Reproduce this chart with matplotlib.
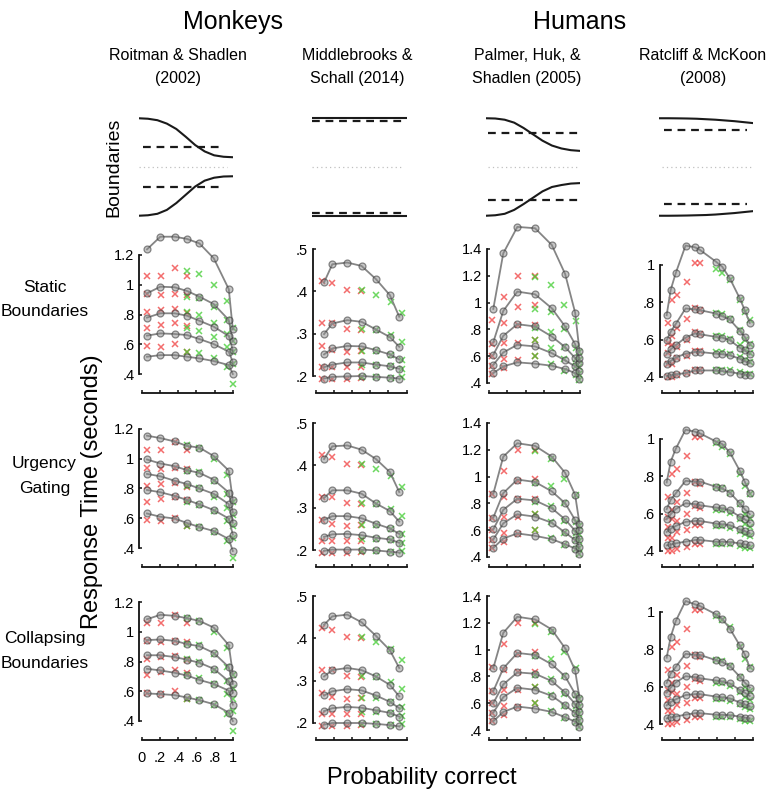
import matplotlib
matplotlib.use('Agg')
import matplotlib.pyplot as plt

plt.rcParams['font.family'] = ['Liberation Sans', 'DejaVu Sans']

# ---------------- data ----------------
studies = ["Roitman & Shadlen\n(2002)", "Middlebrooks &\nSchall (2014)",
           "Palmer, Huk, &\nShadlen (2005)", "Ratcliff & McKoon\n(2008)"]
groups = ["Monkeys", "Humans"]
row_labels = ["Static\nBoundaries", "Urgency\nGating", "Collapsing\nBoundaries"]

x_ticks = [0, 0.2, 0.4, 0.6, 0.8, 1.0]
x_ticklabels = ["0", ".2", ".4", ".6", ".8", "1"]

# boundary shapes (time axis 0..1, read at 11 points)
bnd_t = [0.0, 0.1, 0.2, 0.3, 0.4, 0.5, 0.6, 0.7, 0.8, 0.9, 1.0]
bnd_upper = [
    [1.0, 0.99, 0.96, 0.89, 0.78, 0.62, 0.45, 0.32, 0.24, 0.21, 0.20],
    [1.0, 1.0, 1.0, 1.0, 1.0, 1.0, 1.0, 1.0, 1.0, 1.0, 1.0],
    [1.0, 0.995, 0.97, 0.91, 0.80, 0.67, 0.54, 0.44, 0.38, 0.345, 0.33],
    [1.0, 1.0, 0.998, 0.995, 0.99, 0.98, 0.97, 0.955, 0.94, 0.92, 0.90],
]
bnd_lower = [
    [-1.0, -0.99, -0.96, -0.88, -0.74, -0.57, -0.40, -0.28, -0.22, -0.195, -0.19],
    [-1.0, -1.0, -1.0, -1.0, -1.0, -1.0, -1.0, -1.0, -1.0, -1.0, -1.0],
    [-1.0, -0.99, -0.96, -0.88, -0.76, -0.63, -0.50, -0.41, -0.37, -0.34, -0.33],
    [-1.0, -1.0, -0.998, -0.995, -0.99, -0.985, -0.975, -0.96, -0.945, -0.925, -0.905],
]
static_upper = [0.41, 0.95, 0.69, 0.75]
static_lower = [-0.41, -0.95, -0.68, -0.755]

# y ticks per study
y_ticks = [[0.4, 0.6, 0.8, 1.0, 1.2], [0.2, 0.3, 0.4, 0.5],
           [0.4, 0.6, 0.8, 1.0, 1.2, 1.4], [0.4, 0.6, 0.8, 1.0]]
y_ticklabels = [[".4", ".6", ".8", "1", "1.2"], [".2", ".3", ".4", ".5"],
                [".4", ".6", ".8", "1", "1.2", "1.4"], [".4", ".6", ".8", "1"]]

# ---- Roitman & Shadlen (2002) ----
rs_model_x = [0.055, 0.202, 0.36, 0.496, 0.632, 0.79, 0.956, 1.0]
rs_static = [
    [0.516, 0.527, 0.527, 0.516, 0.505, 0.487, 0.46, 0.40],
    [0.658, 0.673, 0.669, 0.662, 0.635, 0.601, 0.55, 0.48],
    [0.779, 0.808, 0.808, 0.792, 0.758, 0.718, 0.655, 0.56],
    [0.942, 0.987, 0.983, 0.958, 0.92, 0.87, 0.763, 0.62],
    [1.238, 1.323, 1.323, 1.308, 1.278, 1.178, 0.97, 0.70],
]
rs_urgency = [
    [0.632, 0.61, 0.598, 0.568, 0.541, 0.514, 0.46, 0.38],
    [0.79, 0.775, 0.75, 0.723, 0.693, 0.655, 0.598, 0.49],
    [0.898, 0.882, 0.852, 0.83, 0.80, 0.764, 0.695, 0.57],
    [0.995, 0.968, 0.95, 0.923, 0.905, 0.859, 0.773, 0.64],
    [1.155, 1.139, 1.116, 1.086, 1.075, 1.018, 0.92, 0.72],
]
rs_collapse = [
    [0.585, 0.581, 0.574, 0.558, 0.54, 0.513, 0.456, 0.40],
    [0.751, 0.74, 0.724, 0.706, 0.676, 0.649, 0.604, 0.51],
    [0.842, 0.842, 0.83, 0.812, 0.792, 0.751, 0.667, 0.59],
    [0.944, 0.948, 0.939, 0.917, 0.903, 0.858, 0.762, 0.65],
    [1.084, 1.114, 1.107, 1.091, 1.073, 1.028, 0.91, 0.717],
]
rs_err_x = [0.055, 0.213, 0.36, 0.496]
rs_err = [
    [0.59, 0.58, 0.60, 0.55],
    [0.71, 0.73, 0.74, 0.72],
    [0.82, 0.83, 0.84, 0.81],
    [0.94, 0.93, 0.94, 0.93],
    [1.06, 1.06, 1.11, 1.06],
]
rs_cor_x = [0.496, 0.632, 0.79, 0.937, 1.0]
rs_cor = [
    [0.55, 0.54, 0.51, 0.45, 0.33],
    [0.71, 0.69, 0.65, 0.58, 0.47],
    [0.82, 0.80, 0.74, 0.67, 0.55],
    [0.92, 0.91, 0.85, 0.76, 0.62],
    [1.09, 1.07, 1.00, 0.89, 0.71],
]

# ---- Middlebrooks & Schall (2014) ----
ms_model_x = [0.092, 0.183, 0.348, 0.505, 0.663, 0.817, 0.92]
ms_static = [
    [0.194, 0.198, 0.199, 0.2, 0.198, 0.196, 0.194],
    [0.221, 0.227, 0.232, 0.232, 0.227, 0.223, 0.217],
    [0.251, 0.265, 0.271, 0.27, 0.261, 0.251, 0.239],
    [0.299, 0.324, 0.332, 0.328, 0.31, 0.292, 0.269],
    [0.421, 0.464, 0.468, 0.46, 0.429, 0.391, 0.34],
]
ms_urgency = [
    [0.198, 0.201, 0.201, 0.201, 0.199, 0.196, 0.194],
    [0.231, 0.237, 0.238, 0.235, 0.229, 0.225, 0.217],
    [0.271, 0.28, 0.28, 0.275, 0.262, 0.251, 0.238],
    [0.323, 0.341, 0.341, 0.333, 0.31, 0.292, 0.267],
    [0.415, 0.445, 0.447, 0.437, 0.415, 0.384, 0.337],
]
ms_collapse = [
    [0.196, 0.2, 0.2, 0.2, 0.198, 0.195, 0.192],
    [0.228, 0.235, 0.238, 0.236, 0.23, 0.224, 0.215],
    [0.265, 0.275, 0.28, 0.277, 0.265, 0.25, 0.235],
    [0.31, 0.325, 0.33, 0.325, 0.31, 0.29, 0.263],
    [0.432, 0.452, 0.456, 0.438, 0.406, 0.372, 0.33],
]
ms_err_x = [0.066, 0.176, 0.34, 0.495]
ms_err = [
    [0.193, 0.193, 0.193, 0.195],
    [0.222, 0.222, 0.221, 0.222],
    [0.272, 0.262, 0.257, 0.26],
    [0.325, 0.325, 0.312, 0.308],
    [0.425, 0.42, 0.403, 0.40],
]
ms_cor_x = [0.505, 0.663, 0.824, 0.945]
ms_cor = [
    [0.198, 0.198, 0.196, 0.197],
    [0.225, 0.227, 0.223, 0.217],
    [0.258, 0.259, 0.25, 0.238],
    [0.31, 0.308, 0.297, 0.281],
    [0.403, 0.392, 0.375, 0.348],
]

# ---- Palmer, Huk, & Shadlen (2005) ----
ph_model_x = [0.044, 0.154, 0.309, 0.504, 0.688, 0.835, 0.945, 0.993]
ph_static = [
    [0.474, 0.524, 0.554, 0.544, 0.529, 0.504, 0.474, 0.43],
    [0.536, 0.628, 0.685, 0.673, 0.623, 0.569, 0.524, 0.487],
    [0.611, 0.752, 0.839, 0.822, 0.747, 0.668, 0.586, 0.549],
    [0.705, 0.938, 1.082, 1.062, 0.958, 0.822, 0.69, 0.586],
    [0.953, 1.368, 1.565, 1.555, 1.43, 1.214, 0.926, 0.64],
]
ph_urgency = [
    [0.468, 0.538, 0.576, 0.558, 0.533, 0.495, 0.463, 0.42],
    [0.531, 0.651, 0.719, 0.701, 0.656, 0.583, 0.526, 0.475],
    [0.606, 0.752, 0.835, 0.822, 0.764, 0.681, 0.596, 0.538],
    [0.694, 0.877, 0.978, 0.96, 0.89, 0.802, 0.676, 0.6],
    [0.872, 1.149, 1.249, 1.229, 1.149, 1.028, 0.865, 0.65],
]
ph_collapse = [
    [0.465, 0.535, 0.575, 0.56, 0.535, 0.495, 0.462, 0.42],
    [0.53, 0.645, 0.715, 0.70, 0.655, 0.585, 0.525, 0.475],
    [0.60, 0.74, 0.83, 0.82, 0.765, 0.68, 0.595, 0.535],
    [0.69, 0.86, 0.975, 0.96, 0.89, 0.80, 0.67, 0.59],
    [0.862, 1.125, 1.245, 1.225, 1.15, 1.01, 0.845, 0.64],
]
ph_err_x = [0.033, 0.165, 0.32, 0.504]
ph_err = [
    [0.47, 0.51, 0.57, 0.60],
    [0.53, 0.58, 0.70, 0.72],
    [0.60, 0.70, 0.83, 0.83],
    [0.69, 0.85, 0.97, 0.98],
    [0.87, 1.04, 1.20, 1.20],
]
ph_cor_x = [0.504, 0.68, 0.824, 0.952, 0.993]
ph_cor = [
    [0.60, 0.54, 0.49, 0.46, 0.42],
    [0.72, 0.66, 0.58, 0.53, 0.47],
    [0.81, 0.78, 0.67, 0.58, 0.52],
    [0.95, 0.93, 0.80, 0.66, 0.57],
    [1.19, 1.13, 0.98, 0.86, 0.63],
]

# ---- Ratcliff & McKoon (2008) ----
rm_model_x = [0.048, 0.092, 0.147, 0.256, 0.359, 0.414, 0.59, 0.659, 0.744, 0.853, 0.908, 0.963]
rm_static = [
    [0.405, 0.409, 0.414, 0.421, 0.435, 0.435, 0.435, 0.432, 0.427, 0.418, 0.412, 0.409],
    [0.471, 0.486, 0.504, 0.525, 0.534, 0.534, 0.525, 0.522, 0.516, 0.498, 0.484, 0.475],
    [0.525, 0.548, 0.57, 0.611, 0.633, 0.629, 0.615, 0.611, 0.597, 0.557, 0.543, 0.521],
    [0.597, 0.642, 0.683, 0.767, 0.762, 0.758, 0.74, 0.726, 0.708, 0.647, 0.615, 0.57],
    [0.731, 0.866, 0.955, 1.104, 1.095, 1.081, 1.018, 0.991, 0.928, 0.821, 0.758, 0.69],
]
rm_urgency = [
    [0.43, 0.435, 0.441, 0.45, 0.459, 0.459, 0.45, 0.45, 0.448, 0.441, 0.435, 0.43],
    [0.502, 0.52, 0.534, 0.556, 0.561, 0.561, 0.547, 0.543, 0.538, 0.516, 0.507, 0.495],
    [0.57, 0.597, 0.624, 0.656, 0.651, 0.645, 0.633, 0.629, 0.618, 0.584, 0.57, 0.552],
    [0.624, 0.674, 0.708, 0.776, 0.771, 0.772, 0.744, 0.735, 0.713, 0.656, 0.624, 0.597],
    [0.767, 0.878, 0.946, 1.05, 1.039, 1.03, 0.987, 0.973, 0.928, 0.83, 0.771, 0.71],
]
rm_collapse = [
    [0.43, 0.435, 0.44, 0.45, 0.458, 0.458, 0.45, 0.449, 0.447, 0.44, 0.434, 0.43],
    [0.50, 0.518, 0.532, 0.555, 0.56, 0.56, 0.547, 0.543, 0.537, 0.515, 0.505, 0.494],
    [0.568, 0.595, 0.622, 0.656, 0.651, 0.645, 0.633, 0.628, 0.617, 0.583, 0.568, 0.55],
    [0.62, 0.67, 0.705, 0.776, 0.77, 0.77, 0.742, 0.733, 0.71, 0.654, 0.622, 0.595],
    [0.755, 0.866, 0.95, 1.059, 1.041, 1.032, 0.988, 0.964, 0.911, 0.821, 0.773, 0.702],
]
rm_err_x = [0.066, 0.11, 0.157, 0.267, 0.359, 0.414]
rm_err = [
    [0.40, 0.40, 0.41, 0.42, 0.44, 0.44],
    [0.47, 0.47, 0.50, 0.51, 0.54, 0.54],
    [0.53, 0.57, 0.56, 0.60, 0.64, 0.63],
    [0.58, 0.62, 0.66, 0.71, 0.77, 0.76],
    [0.69, 0.81, 0.84, 0.91, 1.01, 1.01],
]
rm_cor_x = [0.59, 0.652, 0.744, 0.853, 0.908, 0.963]
rm_cor = [
    [0.439, 0.439, 0.435, 0.427, 0.418, 0.414],
    [0.534, 0.534, 0.522, 0.507, 0.489, 0.48],
    [0.618, 0.618, 0.606, 0.57, 0.543, 0.529],
    [0.744, 0.74, 0.708, 0.65, 0.597, 0.579],
    [0.977, 0.959, 0.919, 0.812, 0.749, 0.704],
]

model_x = [rs_model_x, ms_model_x, ph_model_x, rm_model_x]
models = [[rs_static, rs_urgency, rs_collapse],
          [ms_static, ms_urgency, ms_collapse],
          [ph_static, ph_urgency, ph_collapse],
          [rm_static, rm_urgency, rm_collapse]]
err_x = [rs_err_x, ms_err_x, ph_err_x, rm_err_x]
err_rt = [rs_err, ms_err, ph_err, rm_err]
cor_x = [rs_cor_x, ms_cor_x, ph_cor_x, rm_cor_x]
cor_rt = [rs_cor, ms_cor, ph_cor, rm_cor]

# ---------------- layout ----------------
W, H = 777, 800
fig = plt.figure(figsize=(W / 100, H / 100), dpi=100)


def add_px(l, t, r, b):
    ax = fig.add_axes([l / W, 1 - b / H, (r - l) / W, (b - t) / H])
    ax.patch.set_visible(False)
    return ax


col_x0 = [142.0, 315.7, 489.3, 662.3]
ppx = 90.8
row_bottom = [393, 567, 740]
ax_h = 182
# (lowest tick, its pixel offset above x-axis, pixels per unit)
yscale = [(0.4, 19, 148.75), (0.2, 17, 423.3), (0.4, 10, 134.0), (0.4, 16, 186.7)]

dash_rng = [(0.045, 0.91), (0.0, 0.98), (0.02, 1.0), (0.06, 0.93)]
dot_rng = [(0.0, 0.94), (0.0, 0.96), (0.02, 1.0), (0.03, 1.0)]

RED = '#f03c3c'
GREEN = '#3ccc2c'
GRAY_LINE = '#858585'

for c in range(4):
    x0 = col_x0[c]
    # boundaries panel
    bax = add_px(x0 - 3.5, 108.5, x0 + 91, 225.5)
    bax.set_xlim(0, 1)
    bax.set_ylim(-1.2, 1.2)
    bax.axis('off')
    bax.plot(bnd_t, bnd_upper[c], color='#1a1a1a', lw=1.5, solid_capstyle='butt')
    bax.plot(bnd_t, bnd_lower[c], color='#1a1a1a', lw=1.5, solid_capstyle='butt')
    d0, d1 = dash_rng[c]
    bax.plot([d0, d1], [static_upper[c]] * 2, color='#1a1a1a', lw=1.6,
             linestyle=(0, (3.5, 2.6)))
    bax.plot([d0, d1], [static_lower[c]] * 2, color='#1a1a1a', lw=1.6,
             linestyle=(0, (3.5, 2.6)))
    o0, o1 = dot_rng[c]
    bax.plot([o0, o1], [0, 0], color='#c0c0c0', lw=0.9, linestyle=(0, (1, 2.5)))

    tlo, off, ppu = yscale[c]
    for r in range(3):
        yb = row_bottom[r]
        ax = add_px(x0 - 2.7, yb - ax_h, x0 + 96, yb)
        ax.set_xlim(-2.7 / ppx, 98.7 / ppx - 2.7 / ppx)
        ylo = tlo - off / ppu
        ax.set_ylim(ylo, ylo + ax_h / ppu)
        for s in ['top', 'right']:
            ax.spines[s].set_visible(False)
        for s in ['left', 'bottom']:
            ax.spines[s].set_linewidth(1.3)
            ax.spines[s].set_color('#111111')
        ax.spines['left'].set_bounds(y_ticks[c][0], y_ticks[c][-1])
        ax.spines['bottom'].set_bounds(0, 1)
        ax.set_yticks(y_ticks[c])
        ax.set_yticklabels(y_ticklabels[c])
        ax.set_xticks(x_ticks)
        if r == 2 and c == 0:
            ax.set_xticklabels(x_ticklabels)
        else:
            ax.set_xticklabels([])
        ax.tick_params(axis='both', direction='in', length=2.4, width=1.1,
                       color='#111111', labelsize=10.5)
        ax.tick_params(axis='y', pad=3.5)
        ax.tick_params(axis='x', pad=8)

        # data crosses
        for q in range(5):
            ax.plot(err_x[c], err_rt[c][q], linestyle='none', marker='x',
                    color=RED, alpha=0.75, markersize=5, mew=1.1, clip_on=False, zorder=2)
            ax.plot(cor_x[c], cor_rt[c][q], linestyle='none', marker='x',
                    color=GREEN, alpha=0.75, markersize=5, mew=1.1, clip_on=False, zorder=2)
        # model curves
        for q in range(5):
            ax.plot(model_x[c], models[c][r][q], color=GRAY_LINE, lw=1.3,
                    zorder=3, clip_on=False)
            ax.plot(model_x[c], models[c][r][q], linestyle='none', marker='o',
                    markersize=5, mfc=(0.55, 0.55, 0.55, 0.5),
                    mec=(0.2, 0.2, 0.2, 0.55), mew=0.9, zorder=4, clip_on=False)

# ---------------- text ----------------
fig.text(233 / W, 1 - 22 / H, groups[0], ha='center', va='center', fontsize=18)
fig.text(580 / W, 1 - 22 / H, groups[1], ha='center', va='center', fontsize=18)
title_x = [178, 357, 527, 703]
for c in range(4):
    l1, l2 = studies[c].split('\n')
    fig.text(title_x[c] / W, 1 - 55 / H, l1, ha='center', va='center', fontsize=11.5)
    fig.text(title_x[c] / W, 1 - 79 / H, l2, ha='center', va='center', fontsize=11.5)

fig.text(114 / W, 1 - 167 / H, "Boundaries", rotation=90, ha='center', va='center',
         fontsize=14)

row_cy = [300, 476, 651]
for r in range(3):
    l1, l2 = row_labels[r].split('\n')
    fig.text(44.5 / W, 1 - (row_cy[r] - 12) / H, l1, ha='center', va='center', fontsize=12.5)
    fig.text(44.5 / W, 1 - (row_cy[r] + 12) / H, l2, ha='center', va='center', fontsize=12.5)

fig.text(92 / W, 1 - 492 / H, "Response Time (seconds)", rotation=90,
         ha='center', va='center', fontsize=17)
fig.text(422 / W, 1 - 778 / H, "Probability correct", ha='center', va='center',
         fontsize=17)

fig.savefig('out.png', dpi=100)
